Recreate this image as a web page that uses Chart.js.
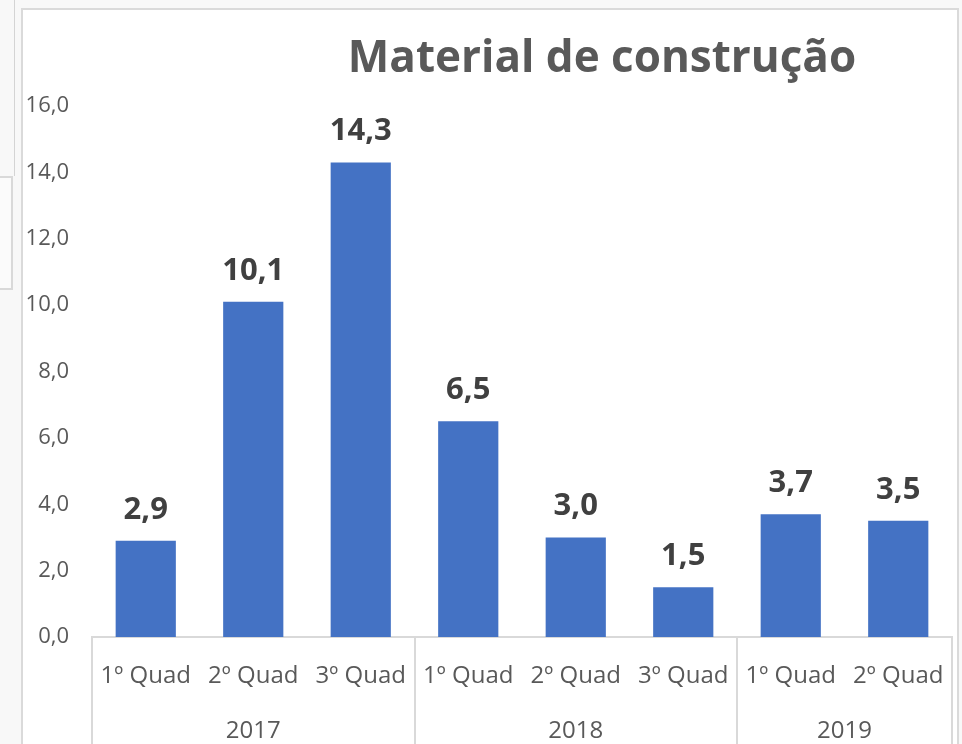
<!DOCTYPE html>
<html lang="pt">
<head>
<meta charset="utf-8">
<title>Material de construção</title>
<script src="https://cdn.jsdelivr.net/npm/chart.js@4.4.1/dist/chart.umd.min.js"></script>
<style>
    html, body { margin: 0; padding: 0; width: 962px; height: 744px; overflow: hidden; background: #f8f8f8; }
    .side-line { position: absolute; left: 14px; top: 0; width: 1px; height: 176px; background: #d4d4d4; }
    .side-box { position: absolute; left: -2px; top: 176px; width: 13px; height: 110px; border: 2px solid #d9d9d9; border-left: none; background: #fbfbfb; }
    .chart-frame { position: absolute; left: 21px; top: 8px; width: 934px; height: 760px; border: 2px solid #dadada; background: #ffffff; }
    #chartWrap { position: absolute; left: 0; top: 0; width: 962px; height: 744px; }
</style>
</head>
<body>
<div class="side-line"></div>
<div class="side-box"></div>
<div class="chart-frame"></div>
<div id="chartWrap"><canvas id="materialChart"></canvas></div>

<script>
// --- DATA ---
const quadLabels = ['1º Quad', '2º Quad', '3º Quad', '1º Quad', '2º Quad', '3º Quad', '1º Quad', '2º Quad'];
const yearLabels = ['2017', '2018', '2019'];
const yearSizes = [3, 3, 2];
const values = [2.9, 10.1, 14.3, 6.5, 3.0, 1.5, 3.7, 3.5];
const yTicks = [0, 2, 4, 6, 8, 10, 12, 14, 16];

const chartTitle = 'Material de construção';
const barColor = '#4472C4';
const textGray = '#595959';
const lineGray = '#d9d9d9';

const fmt = v => v.toFixed(1).replace('.', ',');

// --- PLUGINS ---
// Title sits right of center, like in the original Excel chart
const titlePlugin = {
    id: 'freeTitle',
    afterDraw(chart) {
        const ctx = chart.ctx;
        ctx.save();
        ctx.font = 'bold 44px "Open Sans"';
        ctx.fillStyle = textGray;
        ctx.textAlign = 'center';
        ctx.textBaseline = 'alphabetic';
        ctx.fillText(chartTitle, 602, 72);
        ctx.restore();
    }
};

// Bold value labels above each bar
const valueLabels = {
    id: 'valueLabels',
    afterDatasetsDraw(chart) {
        const ctx = chart.ctx;
        const meta = chart.getDatasetMeta(0);
        ctx.save();
        ctx.font = 'bold 31px "Open Sans"';
        ctx.fillStyle = '#404040';
        ctx.textAlign = 'center';
        ctx.textBaseline = 'alphabetic';
        meta.data.forEach((bar, i) => {
            ctx.fillText(fmt(values[i]), bar.x, bar.y - 22);
        });
        ctx.restore();
    }
};

// Second level of the category axis: years + separator lines
const yearAxis = {
    id: 'yearAxis',
    afterDraw(chart) {
        const ctx = chart.ctx;
        const x = chart.scales.x;
        const top = chart.chartArea.bottom;
        const step = (x.right - x.left) / quadLabels.length;

        ctx.save();
        ctx.strokeStyle = lineGray;
        ctx.lineWidth = 2;
        ctx.font = '24px "Open Sans"';
        ctx.fillStyle = textGray;
        ctx.textAlign = 'center';
        ctx.textBaseline = 'middle';

        let start = 0;
        const edges = [x.getPixelForValue(0) - step / 2];
        yearLabels.forEach((year, i) => {
            const end = start + yearSizes[i] - 1;
            const left = x.getPixelForValue(start) - step / 2;
            const right = x.getPixelForValue(end) + step / 2;
            edges.push(right);
            ctx.fillText(year, (left + right) / 2, 731);
            start = end + 1;
        });

        edges.forEach(px => {
            ctx.beginPath();
            ctx.moveTo(Math.round(px), top);
            ctx.lineTo(Math.round(px), chart.height);
            ctx.stroke();
        });
        ctx.restore();
    }
};

// --- CHART ---
new Chart(document.getElementById('materialChart'), {
    type: 'bar',
    data: {
        labels: quadLabels,
        datasets: [{
            data: values,
            backgroundColor: barColor,
            borderWidth: 0,
            barPercentage: 0.56,
            categoryPercentage: 1
        }]
    },
    options: {
        responsive: true,
        maintainAspectRatio: false,
        animation: false,
        layout: { padding: { top: 106, right: 10, left: 0, bottom: 0 } },
        plugins: {
            legend: { display: false },
            title: { display: false },
            tooltip: { enabled: false }
        },
        scales: {
            y: {
                min: 0,
                max: 16,
                afterFit(scale) { scale.width = 92; scale.paddingTop = 0; scale.paddingBottom = 0; },
                afterBuildTicks(scale) { scale.ticks = yTicks.map(v => ({ value: v })); },
                grid: { display: false, drawTicks: false },
                border: { display: false },
                ticks: {
                    padding: 23,
                    color: textGray,
                    font: { family: 'Open Sans', size: 22 },
                    callback: v => fmt(v)
                }
            },
            x: {
                afterFit(scale) { scale.height = 107; scale.paddingLeft = 0; scale.paddingRight = 0; },
                grid: { display: false, drawTicks: false },
                border: { display: true, color: lineGray, width: 2 },
                ticks: {
                    padding: 25,
                    color: textGray,
                    maxRotation: 0,
                    autoSkip: false,
                    font: { family: 'Open Sans', size: 24 }
                }
            }
        }
    },
    plugins: [valueLabels, yearAxis, titlePlugin]
});
</script>
</body>
</html>
